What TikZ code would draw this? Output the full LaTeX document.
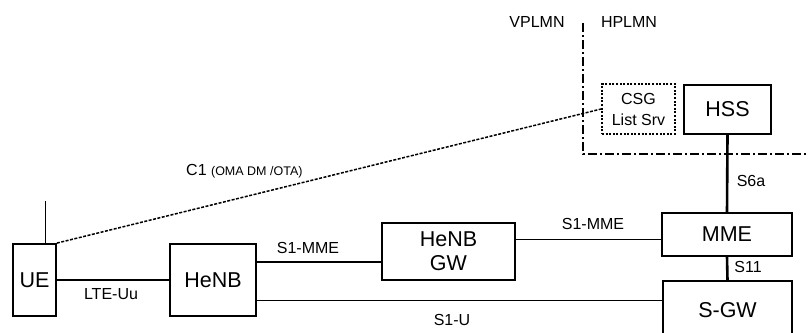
\documentclass[tikz,border=0pt]{standalone}
\usepackage{fontspec}
\setmainfont{Liberation Sans}
\begin{document}
\begin{tikzpicture}[x=1pt,y=-1pt,
  box/.style={draw,line width=1.8pt,inner sep=0pt,font=\fontsize{21.5}{24}\selectfont,align=center},
  dotbox/.style={draw,line width=1.8pt,dash pattern=on 2pt off 1.6pt,inner sep=0pt,font=\fontsize{16}{21}\selectfont,align=center},
  lbl/.style={inner sep=0pt,font=\fontsize{16}{18}\selectfont},
  thinline/.style={line width=1pt},
  midline/.style={line width=1.5pt},
  thickline/.style={line width=2.6pt},
  border/.style={line width=2pt,dash pattern=on 9pt off 3pt on 2pt off 3pt}]
\clip (0,0) rectangle (808,332);
\fill[white] (0,0) rectangle (808,332);
% boxes
\node[box,minimum width=43pt,minimum height=72pt] (UE) at (34.5,280) {UE};
\node[box,minimum width=86pt,minimum height=72pt] (HeNB) at (213,280) {HeNB};
\node[box,minimum width=133pt,minimum height=57pt] (HeNBGW) at (448.5,251.5) {HeNB\\GW};
\node[box,minimum width=130pt,minimum height=43pt] (MME) at (727,234.5) {MME};
\node[box,minimum width=129pt,minimum height=59pt] (SGW) at (727.5,310.5) {S-GW};
\node[box,minimum width=87pt,minimum height=49pt] (HSS) at (727.5,109.5) {HSS};
\node[dotbox,minimum width=73pt,minimum height=50pt] (CSG) at (638.5,109) {CSG\\List Srv};
% domain border
\coordinate (b1) at (583,23);
\coordinate (b2) at (583,154);
\coordinate (b3) at (812,154);
\draw[border] (b1) -- (b2) -- (b3);
\node[lbl] (vp) at (537,22) {VPLMN};
\node[lbl] (hp) at (629,22) {HPLMN};
% antenna
\coordinate (ant) at (45,201);
\draw[thinline] (ant) -- (ant |- UE.north);
% connectors
\draw[midline] (UE) -- (HeNB);
\coordinate (p1) at ([yshift=18pt]HeNB.east);
\draw[line width=2.2pt] (p1) -- (p1 -| HeNBGW.west);
\coordinate (p2) at ([yshift=12.5pt]HeNBGW.east);
\draw[thinline] (p2) -- (p2 -| MME.west);
\coordinate (p3) at ([yshift=-20pt]HeNB.east);
\draw[thinline] (p3) -- (p3 -| SGW.west);
\draw[thickline] (MME.south) -- (SGW.north);
\draw[thickline] (HSS.south) -- (MME.north);
\draw[line width=1.5pt,dash pattern=on 3pt off 1.5pt] (UE.north east) -- (CSG.west);
% labels
\node[lbl,anchor=west] (c1) at (186,171) {C1 {\fontsize{12.5}{13}\selectfont (OMA DM /OTA)}};
\node[lbl] (luu) at (111,294) {LTE-Uu};
\node[lbl] (s1a) at (308,248) {S1-MME};
\node[lbl] (s1b) at (593,224) {S1-MME};
\node[lbl] (s1u) at (452,320) {S1-U};
\node[lbl] (s11) at (748,267) {S11};
\node[lbl] (s6a) at (751,181) {S6a};
\end{tikzpicture}
\end{document}
